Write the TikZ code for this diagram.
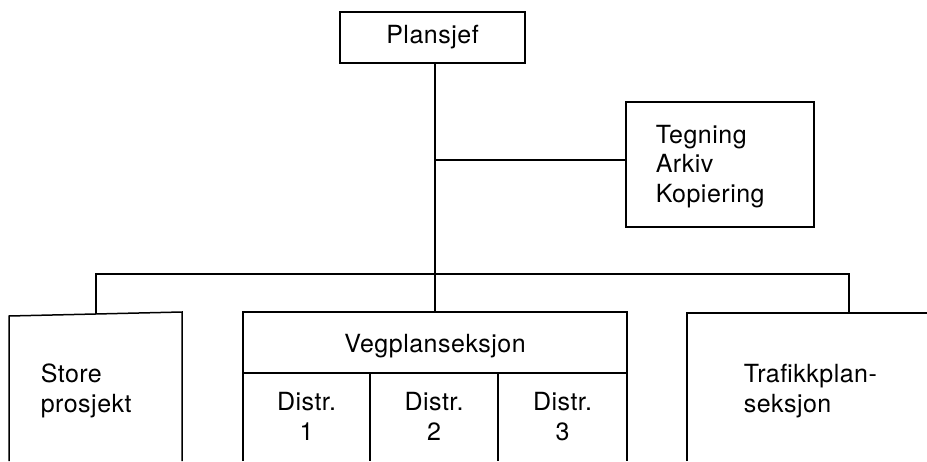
\documentclass[tikz,border=0pt]{standalone}
\usepackage{fontspec}
\setmainfont{TeX Gyre Heros}[LetterSpace=2.0]
\begin{document}
\begin{tikzpicture}[x=1pt,y=-1pt,
  line width=1.5pt,
  txt/.style={inner sep=0pt, font=\fontsize{25}{29.5}\selectfont},
  box/.style={draw, line width=1.5pt, inner sep=0pt, font=\fontsize{25}{29}\selectfont},
  openbox/.style={line width=1.5pt},
  link/.style={line width=1.5pt}]
\useasboundingbox (0,0) rectangle (927,461);

% top boxes
\node[box, minimum width=185pt, minimum height=51pt] (plansjef) at (432.5,37.5) {Plansjef};
\node[box, minimum width=188pt, minimum height=125pt] (tegning) at (720,164.5) {};
\node[txt, anchor=base west, align=left] (tegningtxt) at (655,202) {Tegning\\Arkiv\\Kopiering};

% open-bottom boxes
\draw[openbox] (9,461) -- (9,316) -- (182,312) -- (182,461);
\coordinate (storetop) at (96,314);
\node[txt, anchor=base west, align=left] (storetxt) at (40,412) {Store\\prosjekt};

\draw[openbox] (243,461) -- (243,312) -- (627,312) -- (627,461);
\draw[openbox] (243,373) -- (627,373);
\draw[openbox] (370,373) -- (370,461);
\draw[openbox] (498,373) -- (498,461);
\coordinate (vegtop) at (435,312);
\node[txt, anchor=base] (vegtxt) at (435,352) {Vegplanseksjon};
\node[txt, anchor=base, align=center] (d1) at (306.5,440) {Distr.\\1};
\node[txt, anchor=base, align=center] (d2) at (434,440) {Distr.\\2};
\node[txt, anchor=base, align=center] (d3) at (562.5,440) {Distr.\\3};

\draw[openbox] (687,461) -- (687,313) -- (927,313);
\coordinate (traftop) at (849,313);
\node[txt, anchor=base west, align=left] (traftxt) at (743,412) {Trafikkplan-\\seksjon};

% connectors
\coordinate (tj) at (435,160);
\coordinate (bj) at (435,274);
\draw[link] (plansjef.south -| vegtop) -- (vegtop);
\draw[link] (tj) -- (tj -| tegning.west);
\draw[link] (storetop) -- (storetop |- bj) -- (traftop |- bj) -- (traftop);
\end{tikzpicture}
\end{document}
